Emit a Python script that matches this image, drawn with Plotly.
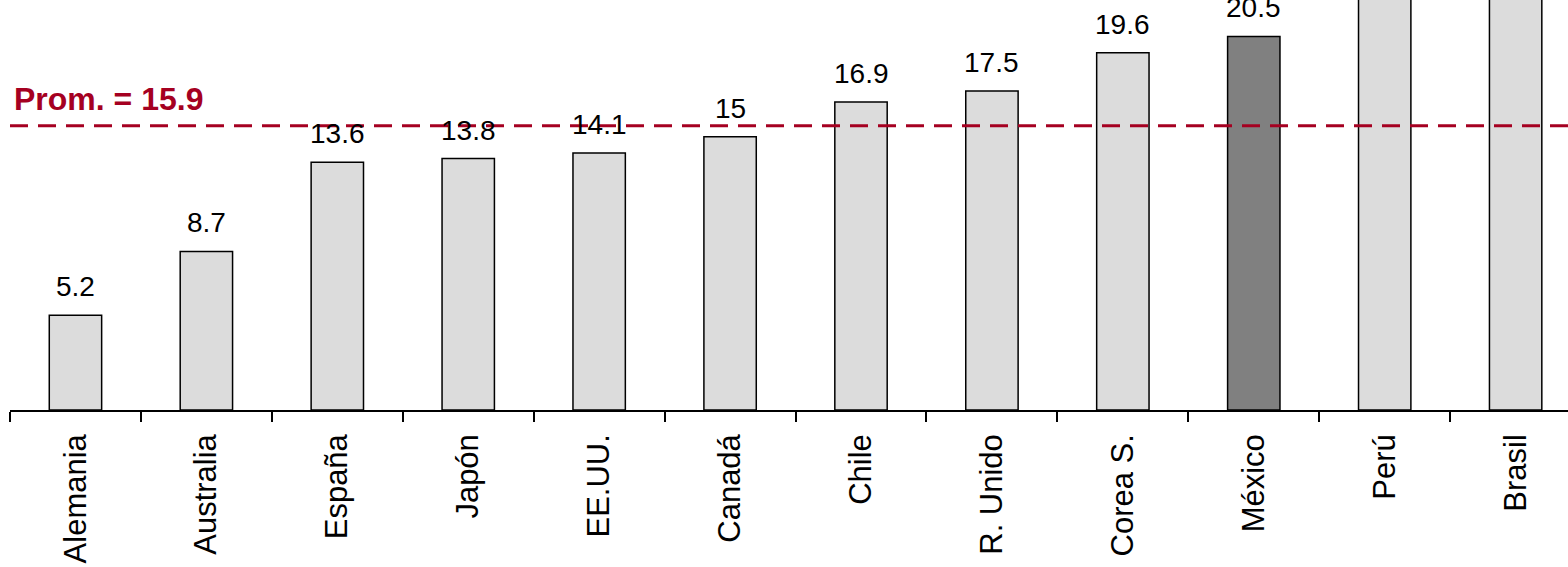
import plotly.graph_objects as go

categories = ["Alemania", "Australia", "España", "Japón", "EE.UU.", "Canadá",
              "Chile", "R. Unido", "Corea S.", "México", "Perú", "Brasil"]
values = [5.2, 8.7, 13.6, 13.8, 14.1, 15.0, 16.9, 17.5, 19.6, 20.5, 22.6, 23.3]
value_labels = ["5.2", "8.7", "13.6", "13.8", "14.1", "15", "16.9", "17.5", "19.6", "20.5", "", ""]
highlight = "México"
prom_label = "Prom. = 15.9"
prom_line = 15.6

colors = ["#808080" if c == highlight else "#DCDCDC" for c in categories]

fig = go.Figure()
fig.add_trace(go.Bar(
    x=categories, y=values, width=0.4,
    marker=dict(color=colors, line=dict(color="#000000", width=1.5)),
    hoverinfo="skip",
))

for c, v, t in zip(categories, values, value_labels):
    if t:
        fig.add_annotation(x=c, y=v, text=t, showarrow=False, yanchor="bottom",
                           yshift=11, font=dict(family="Liberation Sans, Arial", size=28, color="#000000"))

fig.add_shape(type="line", xref="paper", x0=0, x1=1, yref="y", y0=prom_line, y1=prom_line,
              line=dict(color="#A50021", width=3, dash="18px,10px"))
fig.add_annotation(xref="paper", x=0, xanchor="left", xshift=2, y=prom_line, yanchor="bottom", yshift=7,
                   text="<b>" + prom_label + "</b>", showarrow=False,
                   font=dict(family="Liberation Sans, Arial", size=32, color="#A50021"))

fig.update_layout(
    width=1568, height=567,
    margin=dict(l=10, r=0, t=0, b=157),
    plot_bgcolor="white", paper_bgcolor="white",
    showlegend=False,
)
fig.update_xaxes(
    range=[-0.5, 11.40], showline=True, linecolor="#000000", linewidth=1.5,
    ticks="outside", tickson="boundaries", ticklen=10, tickcolor="#000000", tickwidth=1.5,
    tickangle=-90, tickfont=dict(family="Liberation Sans, Arial", size=31, color="#000000"),
    ticklabelstandoff=10,
    showgrid=False, fixedrange=True,
)
fig.update_yaxes(range=[0, 22.5], visible=False, showgrid=False, fixedrange=True)

fig.write_html("out.html", config={"displayModeBar": False},
               post_script="document.body.style.margin='0';")
